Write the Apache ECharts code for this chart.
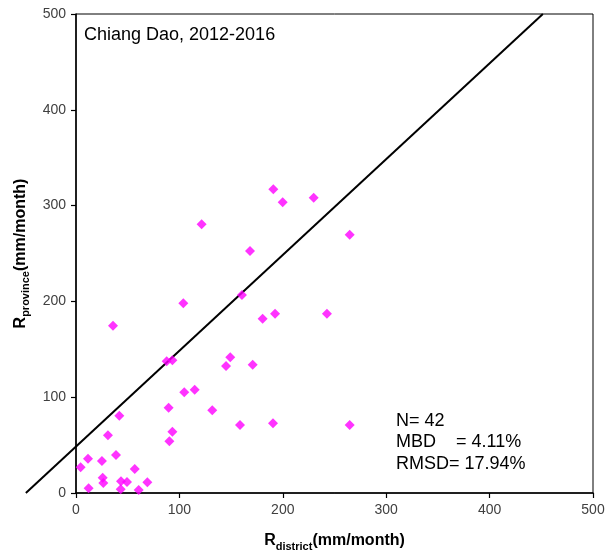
<!DOCTYPE html>
<html>
<head>
<meta charset="utf-8">
<script src="https://cdn.jsdelivr.net/npm/echarts@6/dist/echarts.min.js"></script>
<style>
  html, body { margin: 0; padding: 0; background: #fff; }
  #chart { width: 606px; height: 550px; }
</style>
</head>
<body>
<div id="chart"></div>
<script>
// Monthly rainfall: district gauge (x) vs province record (y), mm/month
const rDistrict = [
  190.8, 199.9, 229.9, 121.5, 264.7, 168.3, 160.5, 103.8, 35.8, 180.5,
  192.5, 242.7, 87.7, 93.2, 149.2, 145.1, 170.9, 104.7, 114.8, 89.6,
  131.8, 41.9, 158.6, 190.5, 264.7, 30.9, 93.2, 90.3, 11.6, 4.5,
  25.1, 38.7, 56.8, 25.8, 26.4, 43.5, 49.3, 69.0, 12.2, 43.2, 60.6
];
const rProvince = [
  317.0, 303.4, 308.3, 280.5, 269.6, 252.6, 206.7, 198.0, 174.7, 182.0,
  187.2, 187.2, 137.5, 138.5, 141.6, 132.6, 133.9, 105.1, 107.8, 89.1,
  86.3, 80.7, 71.0, 72.7, 71.0, 60.2, 64.0, 53.9, 35.8, 26.8,
  33.4, 39.7, 25.1, 16.0, 10.4, 12.2, 11.5, 11.2, 4.9, 3.8, 3.1
];
// Reference line endpoints (x, y); it runs past the left edge of the plot
const lineX = [-48.5, 451.5];
const lineY = [0, 500];
const axisTicks = [0, 100, 200, 300, 400, 500];

const titleText = 'Chiang Dao, 2012-2016';
const statLines = ['N= 42', 'MBD    = 4.11%', 'RMSD= 17.94%'];

const FONT = '"Liberation Sans", Arial, sans-serif';

const chart = echarts.init(document.getElementById('chart'), null, { renderer: 'canvas' });

const points = rDistrict.map((x, i) => [x, rProvince[i]]);

const nameRich = {
  r: { fontFamily: FONT, fontWeight: 'bold', fontSize: 16, color: '#000', lineHeight: 18, verticalAlign: 'bottom' },
  s: { fontFamily: FONT, fontWeight: 'bold', fontSize: 11, color: '#000', lineHeight: 18, verticalAlign: 'bottom', padding: [0, 0, -3, 0] }
};

const axisCommon = {
  type: 'value',
  min: axisTicks[0],
  max: axisTicks[axisTicks.length - 1],
  interval: axisTicks[1] - axisTicks[0],
  splitLine: { show: false },
  axisLine: { show: true, onZero: false, lineStyle: { color: '#000', width: 1.5 } },
  axisTick: { show: true, inside: false, length: 5, lineStyle: { color: '#000', width: 1.2 } },
  axisLabel: { color: '#404040', fontFamily: FONT, fontSize: 14, margin: 10 },
  nameLocation: 'middle',
  nameTextStyle: { rich: nameRich }
};

chart.setOption({
  animation: false,
  backgroundColor: '#fff',
  grid: {
    left: 76, right: 13, top: 14, bottom: 57,
    outerBoundsMode: 'none',
    containLabel: false,
    show: true, borderColor: '#000', borderWidth: 1, backgroundColor: 'transparent'
  },
  xAxis: Object.assign({}, axisCommon, {
    name: '{r|R}{s|district}{r|(mm/month)}',
    nameGap: 38
  }),
  yAxis: Object.assign({}, axisCommon, {
    name: '{r|R}{s|province}{r|(mm/month)}',
    nameGap: 47,
    nameRotate: 90
  }),
  series: [
    {
      type: 'scatter',
      data: points,
      symbol: 'diamond',
      symbolSize: 10,
      itemStyle: { color: '#FF00FF' },
      z: 3
    }
  ]
});

// The reference line is placed through the axes' own scales, then drawn
// unclipped so it can extend beyond the left axis.
const p0 = chart.convertToPixel({ gridIndex: 0 }, [lineX[0], lineY[0]]);
const p1 = chart.convertToPixel({ gridIndex: 0 }, [lineX[1], lineY[1]]);

chart.setOption({
  graphic: [
    {
      type: 'line', z: 2, silent: true,
      shape: { x1: p0[0], y1: p0[1], x2: p1[0], y2: p1[1] },
      style: { stroke: '#000', lineWidth: 2 }
    },
    {
      type: 'text', left: 84, top: 26, z: 10,
      style: { text: titleText, fontFamily: FONT, fontSize: 18, fill: '#000' }
    },
    {
      type: 'text', left: 396, top: 410, z: 10,
      style: { text: statLines.join('\n'), fontFamily: FONT, fontSize: 18, lineHeight: 21.5, fill: '#000' }
    }
  ]
});
</script>
</body>
</html>
